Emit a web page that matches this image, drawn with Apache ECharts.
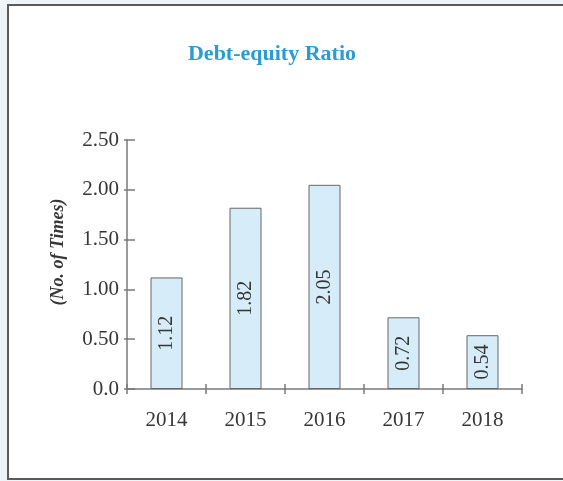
<!DOCTYPE html>
<html>
<head>
<meta charset="utf-8">
<script src="https://cdn.jsdelivr.net/npm/echarts@6/dist/echarts.min.js"></script>
<style>
  html, body { margin: 0; padding: 0; background: #eef5f8; }
  #chart { width: 563px; height: 481px; }
</style>
</head>
<body>
<div id="chart"></div>
<script>
// Debt-equity ratio by year
const years = ['2014', '2015', '2016', '2017', '2018'];
const ratios = [1.12, 1.82, 2.05, 0.72, 0.54];
const yTickLabels = ['0.0', '0.50', '1.00', '1.50', '2.00', '2.50'];

const serif = '"Liberation Serif", "DejaVu Serif", serif';
const axisGray = '#7a7a7a';
const textGray = '#363636';

const chart = echarts.init(document.getElementById('chart'), null, { renderer: 'canvas' });

const grid = { left: 127, right: 41, top: 140, bottom: 92 };

const option = {
  backgroundColor: 'transparent',
  animation: false,
  graphic: [
    {
      type: 'rect',
      z: -10,
      shape: { x: 8, y: 5, width: 560, height: 474 },
      style: { fill: '#ffffff', stroke: '#5a5a5a', lineWidth: 2 }
    },
    {
      type: 'text',
      x: 58,
      y: 252,
      rotation: Math.PI / 2,
      style: {
        text: '(No. of Times)',
        font: 'italic bold 18px ' + serif,
        fill: textGray,
        align: 'center',
        verticalAlign: 'middle'
      }
    }
  ],
  title: {
    text: 'Debt-equity Ratio',
    left: 267,
    textAlign: 'center',
    top: 38,
    textStyle: {
      fontFamily: serif,
      fontWeight: 'bold',
      fontSize: 22,
      color: '#2b9bd2'
    }
  },
  grid: grid,
  xAxis: [
    {
      type: 'category',
      data: years,
      boundaryGap: true,
      axisLine: { show: true, lineStyle: { color: axisGray, width: 1.5 } },
      axisTick: { show: true, inside: false, length: 5, lineStyle: { color: axisGray, width: 1.5 } },
      axisLabel: {
        margin: 21,
        fontFamily: serif,
        fontSize: 21,
        color: textGray
      },
      splitLine: { show: false }
    },
    {
      type: 'category',
      data: years,
      position: 'bottom',
      boundaryGap: true,
      axisLine: { show: false },
      axisTick: { show: true, inside: true, length: 5, lineStyle: { color: axisGray, width: 1.5 } },
      axisLabel: { show: false },
      splitLine: { show: false }
    }
  ],
  yAxis: [
    {
      type: 'value',
      min: 0,
      max: 2.5,
      interval: 0.5,
      axisLine: { show: true, lineStyle: { color: axisGray, width: 1.5 } },
      axisTick: { show: true, inside: false, length: 3, lineStyle: { color: axisGray, width: 1.5 } },
      axisLabel: {
        margin: 8,
        fontFamily: serif,
        fontSize: 21,
        color: textGray,
        formatter: (v, i) => yTickLabels[i]
      },
      splitLine: { show: false }
    },
    {
      type: 'value',
      min: 0,
      max: 2.5,
      interval: 0.5,
      position: 'left',
      axisLine: { show: false },
      axisTick: { show: true, inside: true, length: 8, lineStyle: { color: axisGray, width: 1.5 } },
      axisLabel: { show: false },
      splitLine: { show: false }
    }
  ],
  series: [
    {
      type: 'bar',
      data: ratios,
      barWidth: 32,
      itemStyle: {
        color: '#d7ecf9',
        borderColor: '#666666',
        borderWidth: 1
      },
      label: {
        show: true,
        position: 'inside',
        rotate: 90,
        fontFamily: serif,
        fontSize: 20,
        color: textGray,
        formatter: p => p.value.toFixed(2)
      }
    }
  ]
};

chart.setOption(option);
</script>
</body>
</html>
